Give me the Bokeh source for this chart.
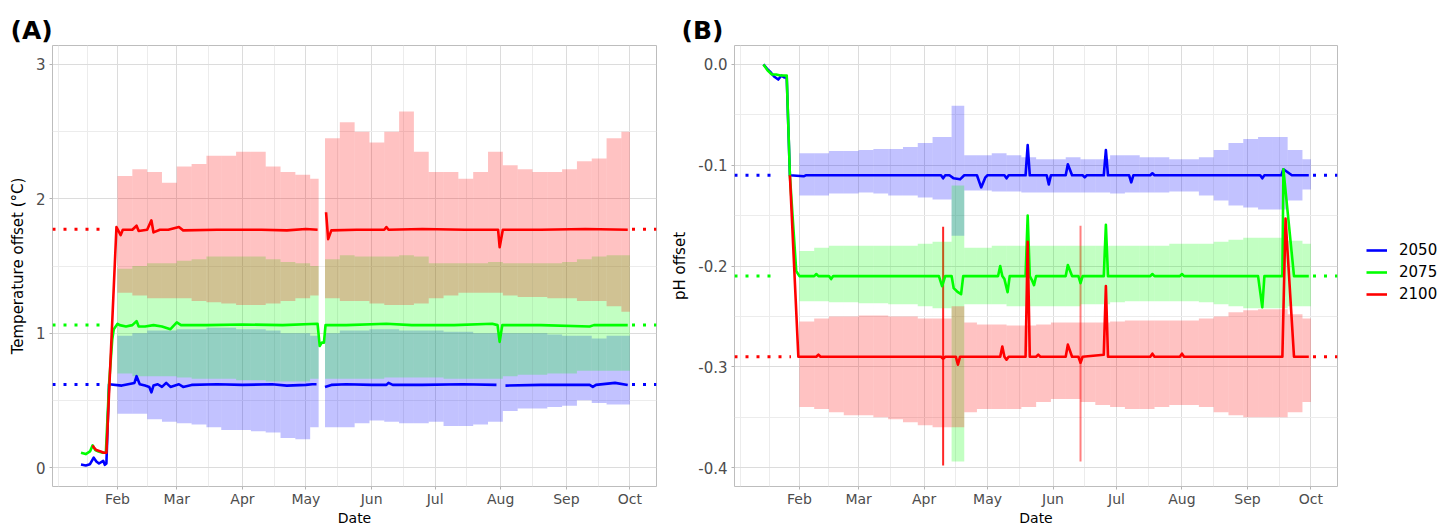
import pandas as pd
from bokeh.plotting import figure
from bokeh.models import (Range1d, FixedTicker, DatetimeTickFormatter, NumeralTickFormatter,
                          Legend, LegendItem)
from bokeh.layouts import row
from bokeh.embed import file_html
from bokeh.resources import INLINE

NAN = float("nan")
YEAR = "2021-"

# ---------------- data ----------------
scenarios = ["2050", "2075", "2100"]

month_ticks = ["02-01", "03-01", "04-01", "05-01", "06-01", "07-01", "08-01", "09-01", "10-01"]
minor_x_ticks = ["01-04", "01-18", "02-15", "03-16", "04-16", "05-16", "06-16", "07-16", "08-16", "09-16"]

temp_yticks = [0, 1, 2, 3]
temp_yminor = [0.5, 1.5, 2.5]
ph_yticks = [-0.4, -0.3, -0.2, -0.1, 0.0]
ph_yminor = [-0.35, -0.25, -0.15, -0.05]

# weekly ensemble ranges (ribbons)
band_start_A = ["02-01", "02-08", "02-15", "02-22", "03-01", "03-08", "03-15", "03-22", "03-29", "04-05",
                "04-12", "04-19", "04-26", "05-03", "05-10", "05-17", "05-24", "05-31", "06-07", "06-14",
                "06-21", "06-28", "07-05", "07-12", "07-19", "07-26", "08-02", "08-09", "08-16", "08-23",
                "08-30", "09-06", "09-13", "09-20", "09-27"]
band_end_A = ["02-08", "02-15", "02-22", "03-01", "03-08", "03-15", "03-22", "03-29", "04-05", "04-12",
              "04-19", "04-26", "05-03", "05-07", "05-17", "05-24", "05-31", "06-07", "06-14", "06-21",
              "06-28", "07-05", "07-12", "07-19", "07-26", "08-02", "08-09", "08-16", "08-23", "08-30",
              "09-06", "09-13", "09-20", "09-27", "10-01"]
band_start_B = ["02-01", "02-08", "02-15", "02-22", "03-01", "03-08", "03-15", "03-22", "03-29", "04-05",
                "04-14", "04-20", "04-26", "05-03", "05-10", "05-17", "05-24", "05-31", "06-07", "06-14",
                "06-21", "06-28", "07-05", "07-12", "07-19", "07-26", "08-02", "08-09", "08-16", "08-23",
                "08-30", "09-06", "09-13", "09-20", "09-27"]
band_end_B = ["02-08", "02-15", "02-22", "03-01", "03-08", "03-15", "03-22", "03-29", "04-05", "04-14",
              "04-20", "04-26", "05-03", "05-10", "05-17", "05-24", "05-31", "06-07", "06-14", "06-21",
              "06-28", "07-05", "07-12", "07-19", "07-26", "08-02", "08-09", "08-16", "08-23", "08-30",
              "09-06", "09-13", "09-20", "09-27", "10-01"]

temp_band_2050_lo = [0.40, 0.40, 0.36, 0.34, 0.33, 0.32, 0.30, 0.28, 0.28, 0.27,
                     0.26, 0.22, 0.21, 0.30, 0.30, 0.30, 0.33, 0.35, 0.34, 0.33,
                     0.33, 0.34, 0.31, 0.31, 0.32, 0.34, 0.42, 0.44, 0.44, 0.45,
                     0.46, 0.50, 0.48, 0.47, 0.47]
temp_band_2050_hi = [0.98, 1.00, 1.02, 1.02, 1.03, 1.03, 1.04, 1.04, 1.03, 1.03,
                     1.02, 1.00, 1.00, 0.98, 1.00, 1.02, 1.02, 1.03, 1.03, 1.02,
                     1.02, 1.02, 1.01, 1.01, 1.00, 1.00, 1.00, 1.00, 1.00, 0.99,
                     0.98, 0.98, 0.96, 0.98, 0.98]
temp_band_2075_lo = [0.70, 0.68, 0.68, 0.68, 0.67, 0.66, 0.66, 0.66, 0.65, 0.65,
                     0.64, 0.64, 0.64, 0.66, 0.66, 0.66, 0.66, 0.66, 0.67, 0.67,
                     0.67, 0.67, 0.66, 0.66, 0.66, 0.66, 0.68, 0.69, 0.69, 0.70,
                     0.70, 0.72, 0.72, 0.72, 0.72]
temp_band_2075_hi = [1.48, 1.50, 1.52, 1.52, 1.54, 1.55, 1.57, 1.57, 1.57, 1.57,
                     1.55, 1.53, 1.52, 1.50, 1.55, 1.58, 1.57, 1.57, 1.57, 1.58,
                     1.57, 1.52, 1.52, 1.52, 1.52, 1.53, 1.52, 1.52, 1.52, 1.52,
                     1.53, 1.55, 1.57, 1.58, 1.58]
temp_band_2100_lo = [1.30, 1.28, 1.26, 1.26, 1.26, 1.24, 1.23, 1.22, 1.21, 1.21,
                     1.22, 1.24, 1.26, 1.28, 1.26, 1.24, 1.24, 1.22, 1.21, 1.21,
                     1.22, 1.26, 1.28, 1.30, 1.30, 1.30, 1.28, 1.27, 1.27, 1.26,
                     1.26, 1.24, 1.24, 1.20, 1.16]
temp_band_2100_hi = [2.17, 2.22, 2.20, 2.12, 2.24, 2.26, 2.32, 2.32, 2.35, 2.35,
                     2.24, 2.20, 2.18, 2.15, 2.45, 2.57, 2.50, 2.42, 2.50, 2.65,
                     2.35, 2.20, 2.20, 2.15, 2.20, 2.35, 2.25, 2.22, 2.20, 2.20,
                     2.22, 2.28, 2.30, 2.45, 2.50]

ph_band_2050_lo = [-0.130, -0.130, -0.128, -0.128, -0.127, -0.128, -0.130, -0.130, -0.132, -0.134,
                   -0.170, -0.125, -0.125, -0.126, -0.126, -0.127, -0.127, -0.127, -0.127, -0.127,
                   -0.127, -0.128, -0.127, -0.127, -0.127, -0.126, -0.126, -0.130, -0.135, -0.140,
                   -0.142, -0.144, -0.144, -0.135, -0.124]
ph_band_2050_hi = [-0.088, -0.088, -0.086, -0.086, -0.085, -0.084, -0.084, -0.082, -0.078, -0.072,
                   -0.041, -0.090, -0.090, -0.088, -0.090, -0.092, -0.094, -0.094, -0.092, -0.094,
                   -0.094, -0.090, -0.090, -0.092, -0.092, -0.094, -0.094, -0.092, -0.085, -0.078,
                   -0.074, -0.072, -0.072, -0.085, -0.094]
ph_band_2075_lo = [-0.235, -0.235, -0.236, -0.236, -0.237, -0.237, -0.238, -0.238, -0.240, -0.242,
                   -0.394, -0.238, -0.238, -0.238, -0.240, -0.240, -0.240, -0.240, -0.240, -0.238,
                   -0.238, -0.236, -0.235, -0.235, -0.235, -0.235, -0.235, -0.236, -0.238, -0.240,
                   -0.242, -0.242, -0.242, -0.240, -0.240]
ph_band_2075_hi = [-0.185, -0.182, -0.180, -0.180, -0.180, -0.180, -0.180, -0.180, -0.178, -0.176,
                   -0.120, -0.182, -0.182, -0.180, -0.180, -0.180, -0.180, -0.180, -0.180, -0.180,
                   -0.180, -0.180, -0.180, -0.180, -0.180, -0.178, -0.178, -0.178, -0.176, -0.174,
                   -0.172, -0.172, -0.172, -0.175, -0.178]
ph_band_2100_lo = [-0.340, -0.342, -0.345, -0.348, -0.348, -0.350, -0.352, -0.355, -0.358, -0.360,
                   -0.360, -0.345, -0.342, -0.342, -0.342, -0.340, -0.335, -0.332, -0.332, -0.335,
                   -0.338, -0.340, -0.342, -0.342, -0.340, -0.338, -0.338, -0.340, -0.345, -0.348,
                   -0.350, -0.350, -0.350, -0.345, -0.335]
ph_band_2100_hi = [-0.255, -0.252, -0.250, -0.250, -0.249, -0.249, -0.250, -0.250, -0.252, -0.252,
                   -0.240, -0.256, -0.258, -0.258, -0.259, -0.259, -0.258, -0.256, -0.256, -0.256,
                   -0.256, -0.255, -0.254, -0.254, -0.254, -0.254, -0.254, -0.252, -0.250, -0.246,
                   -0.244, -0.243, -0.243, -0.248, -0.252]

# single-day extreme ranges (panel B, 2100)
ph_spike_dates = ["04-10", "06-14"]
ph_spike_lo = [-0.398, -0.394]
ph_spike_hi = [-0.161, -0.160]
ph_spike_alpha = [0.85, 0.5]

# median offsets (lines)
temp_2050_t = ["01-14 18:00", "01-17", "01-19", "01-20 18:00", "01-22", "01-23 06:00", "01-25 06:00", "01-26",
               "01-26 18:00", "01-28",
               "02-03", "02-06", "02-09", "02-10", "02-11 12:00", "02-14", "02-16", "02-17", "02-18", "02-20",
               "02-22", "02-24", "02-26", "03-02", "03-04", "03-08", "03-20", "04-01", "04-15", "04-22",
               "05-01", "05-04", "05-06",
               "05-08",
               "05-10", "05-13", "05-20", "06-01", "06-08", "06-09", "06-11", "06-25", "07-14", "07-30",
               "08-01",
               "08-03 06:00", "08-20", "09-12", "09-13 12:00", "09-15", "09-24", "09-30"]
temp_2050_v = [0.022, 0.015, 0.025, 0.074, 0.045, 0.03, 0.05, 0.02, 0.03, 0.62,
               0.61, 0.62, 0.63, 0.68, 0.62, 0.61, 0.60, 0.56, 0.61, 0.62,
               0.60, 0.63, 0.60, 0.62, 0.60, 0.615, 0.62, 0.615, 0.62, 0.61,
               0.615, 0.62, 0.62,
               NAN,
               0.60, 0.615, 0.62, 0.615, 0.615, 0.63, 0.615, 0.615, 0.62, 0.615,
               NAN,
               0.61, 0.615, 0.615, 0.60, 0.615, 0.63, 0.615]

temp_2075_t = ["01-14 18:00", "01-17", "01-19", "01-20 06:00", "01-21 12:00", "01-23", "01-25", "01-26 12:00",
               "01-28", "01-29 12:00", "01-30 06:00", "02-01", "02-02", "02-05", "02-08", "02-10", "02-11",
               "02-14", "02-18", "02-22", "02-26", "03-01", "03-03", "03-15", "04-01", "04-20", "05-06 12:00",
               "05-07 12:00", "05-08 12:00", "05-09 12:00", "05-10 06:00", "05-20", "06-08", "06-20", "07-10",
               "07-28", "07-30 12:00", "07-31 12:00", "08-01 18:00", "08-20", "09-12", "09-14", "09-30"]
temp_2075_v = [0.11, 0.10, 0.12, 0.165, 0.13, 0.12, 0.11, 0.11,
               0.62, 0.95, 1.03, 1.07, 1.06, 1.05, 1.06, 1.09, 1.05,
               1.05, 1.06, 1.05, 1.03, 1.08, 1.06, 1.06, 1.065, 1.06, 1.07,
               0.905, 0.93, 0.93, 1.06, 1.06, 1.07, 1.06, 1.06,
               1.07, 1.06, 0.935, 1.06, 1.06, 1.05, 1.06, 1.06]

temp_2100_t = ["01-20 06:00", "01-20 18:00", "01-22", "01-24", "01-25 12:00", "01-26 18:00", "01-31 12:00",
               "02-01 12:00", "02-02 12:00", "02-03 12:00", "02-08", "02-10", "02-11", "02-15", "02-17", "02-18",
               "02-21", "02-25", "03-02", "03-04", "03-20", "04-10", "04-22", "05-01", "05-06 12:00",
               "05-08",
               "05-10 12:00", "05-11 12:00", "05-13", "05-25", "06-07", "06-08", "06-09", "06-25", "07-15",
               "07-30 18:00", "07-31 12:00", "08-02", "08-20", "09-10", "09-30"]
temp_2100_v = [0.165, 0.15, 0.13, 0.12, 0.11, 0.11, 1.79,
               1.76, 1.73, 1.77, 1.77, 1.80, 1.76, 1.77, 1.84, 1.75,
               1.77, 1.77, 1.79, 1.765, 1.77, 1.77, 1.765, 1.775, 1.77,
               NAN,
               1.90, 1.70, 1.765, 1.77, 1.77, 1.79, 1.77, 1.775, 1.77,
               1.77, 1.64, 1.77, 1.77, 1.775, 1.77]

ph_2050_t = ["01-15", "01-17", "01-18 12:00", "01-20", "01-22", "01-23 12:00", "01-25", "01-26", "01-27 12:00",
             "02-03", "02-04", "04-09", "04-10", "04-11", "04-13", "04-15", "04-18", "04-20", "04-26", "04-28",
             "04-30", "05-01", "05-09", "05-10", "05-11", "05-19", "05-20", "05-21", "05-29", "05-30", "05-31",
             "06-07", "06-08", "06-10", "06-15", "06-16", "06-17", "06-25", "06-26", "06-27", "07-07", "07-08",
             "07-09", "07-17", "07-18", "07-19", "09-07", "09-08", "09-09", "09-17", "09-18", "09-20", "09-22",
             "09-30"]
ph_2050_v = [0.0, -0.005, -0.008, -0.012, -0.015, -0.011, -0.013, -0.013, -0.11,
             -0.111, -0.11, -0.11, -0.113, -0.11, -0.11, -0.113, -0.114, -0.11, -0.11, -0.122,
             -0.112, -0.11, -0.11, -0.113, -0.11, -0.11, -0.08, -0.11, -0.11, -0.119, -0.11,
             -0.11, -0.099, -0.11, -0.11, -0.112, -0.11, -0.11, -0.085, -0.11, -0.11, -0.117,
             -0.11, -0.11, -0.108, -0.11, -0.11, -0.113, -0.11, -0.11, -0.104, -0.107, -0.11,
             -0.11]

ph_2075_t = ["01-15", "01-17", "01-19", "01-21", "01-23", "01-26", "01-27 12:00", "01-30 12:00", "02-01",
             "02-08", "02-09", "02-10", "02-15", "02-16", "02-17", "04-08", "04-09 12:00", "04-11", "04-14",
             "04-15", "04-17", "04-18 12:00", "04-19 12:00", "05-06", "05-07", "05-08", "05-09", "05-10 12:00",
             "05-11 12:00", "05-19", "05-20", "05-21", "05-22", "05-23", "05-24", "06-07", "06-08", "06-10",
             "06-13", "06-14", "06-15", "06-25", "06-26", "06-27", "07-17", "07-18", "07-19", "07-31", "08-01",
             "08-02", "09-06", "09-08", "09-09", "09-17 12:00", "09-18", "09-23", "09-30"]
ph_2075_v = [0.0, -0.006, -0.01, -0.01, -0.011, -0.011, -0.11, -0.205, -0.21,
             -0.21, -0.208, -0.21, -0.21, -0.213, -0.21, -0.21, -0.22, -0.21, -0.21,
             -0.222, -0.226, -0.228, -0.21, -0.21, -0.20, -0.21, -0.213, -0.226,
             -0.21, -0.21, -0.15, -0.21, -0.214, -0.219, -0.21, -0.21, -0.199, -0.21,
             -0.21, -0.217, -0.21, -0.21, -0.159, -0.21, -0.21, -0.208, -0.21, -0.21, -0.208,
             -0.21, -0.21, -0.241, -0.21, -0.21, -0.104, -0.21, -0.21]

ph_2100_t = ["01-27 12:00", "01-31 12:00", "02-09", "02-10", "02-11", "04-09", "04-10", "04-11", "04-16",
             "04-17", "04-18", "05-07", "05-08", "05-09", "05-10", "05-11", "05-19", "05-20", "05-21", "05-24",
             "05-25", "05-26", "06-07", "06-08", "06-10", "06-13", "06-14", "06-15", "06-25", "06-26", "06-27",
             "07-17", "07-18", "07-19", "07-31", "08-01", "08-02", "09-17 12:00", "09-19", "09-23", "09-30"]
ph_2100_v = [-0.11, -0.29, -0.29, -0.288, -0.29, -0.29, -0.292, -0.29, -0.29,
             -0.298, -0.29, -0.29, -0.28, -0.29, -0.293, -0.29, -0.29, -0.176, -0.29, -0.29,
             -0.288, -0.29, -0.29, -0.278, -0.29, -0.29, -0.296, -0.29, -0.288, -0.22, -0.29,
             -0.29, -0.287, -0.29, -0.29, -0.287, -0.29, -0.29, -0.153, -0.29, -0.29]

# long-term reference offsets (dotted)
temp_ref = [0.618, 1.06, 1.774]
ph_ref = [-0.11, -0.21, -0.29]
temp_ref_until = ["01-27", "01-27", "01-27"]
ph_ref_until = ["01-22", "01-22", "01-28"]
ref_from = "10-02"

# ---------------- helpers ----------------
COLORS = ["#0000FF", "#00FF00", "#FF0000"]
FONT = "DejaVu Sans"
HEIGHT = 528
BAND_ALPHA = 0.24
X_START = pd.Timestamp("2021-01-01 07:00")
X_END = pd.Timestamp("2021-10-13 14:00")


def ts(lst):
    return [pd.Timestamp(YEAR + s) for s in lst]


def ms(s):
    return pd.Timestamp(YEAR + s).value / 1e6


def make_fig(width, left, right, yr, yticks, yminor, ylabel, title, title_offset, numfmt=None):
    p = figure(width=width, height=HEIGHT, x_axis_type="datetime", output_backend="svg",
               toolbar_location=None, x_range=Range1d(X_START, X_END), y_range=Range1d(*yr),
               min_border_left=left, min_border_right=right, min_border_top=45, min_border_bottom=30,
               title=title)
    p.title.align = "left"
    p.title.offset = title_offset
    p.title.standoff = 2
    p.title.text_font = FONT
    p.title.text_font_size = "25px"
    p.title.text_font_style = "bold"
    p.title.text_color = "black"

    xt = FixedTicker(ticks=[ms(m) for m in month_ticks], minor_ticks=[ms(m) for m in minor_x_ticks])
    p.xaxis[0].ticker = xt
    p.xgrid[0].ticker = xt
    fmt = "%b"
    p.xaxis[0].formatter = DatetimeTickFormatter(microseconds=fmt, milliseconds=fmt, seconds=fmt, minsec=fmt,
                                                 minutes=fmt, hourmin=fmt, hours=fmt, days=fmt,
                                                 months=fmt, years=fmt)
    yt = FixedTicker(ticks=yticks, minor_ticks=yminor)
    p.yaxis[0].ticker = yt
    p.ygrid[0].ticker = yt
    if numfmt:
        p.yaxis[0].formatter = NumeralTickFormatter(format=numfmt)

    for ax in p.axis:
        ax.axis_line_color = None
        ax.major_tick_line_color = "#b3b3b3"
        ax.major_tick_out = 3
        ax.major_tick_in = 0
        ax.minor_tick_out = 0
        ax.minor_tick_in = 0
        ax.major_label_text_font = FONT
        ax.major_label_text_color = "#4d4d4d"
        ax.axis_label_text_font = FONT
        ax.axis_label_text_font_style = "normal"
        ax.axis_label_text_color = "black"
    p.xaxis[0].axis_label = "Date"
    p.xaxis[0].major_label_text_font_size = "14px"
    p.xaxis[0].major_label_standoff = 1
    p.xaxis[0].axis_label_text_font_size = "14px"
    p.xaxis[0].axis_label_standoff = 0
    p.yaxis[0].axis_label = ylabel
    p.yaxis[0].major_label_text_font_size = "15px"
    p.yaxis[0].major_label_standoff = 4
    p.yaxis[0].axis_label_text_font_size = "15px"
    p.yaxis[0].axis_label_standoff = 6

    for g in (p.xgrid[0], p.ygrid[0]):
        g.grid_line_color = "#dcdcdc"
        g.grid_line_width = 1
        g.minor_grid_line_color = "#ececec"
        g.minor_grid_line_width = 1
    p.outline_line_color = "#bdbdbd"
    p.outline_line_width = 1
    return p


def draw(p, band_start, band_end, bands, lines, refs, ref_until):
    for (lo, hi), c in zip(bands, COLORS):
        p.quad(left=ts(band_start), right=ts(band_end), bottom=lo, top=hi,
               fill_color=c, fill_alpha=BAND_ALPHA, line_color=None)
    for lvl, until, c in zip(refs, ref_until, COLORS):
        p.line([X_START, pd.Timestamp(YEAR + until)], [lvl, lvl], color=c, line_width=3, line_dash="3 8")
        p.line([pd.Timestamp(YEAR + ref_from), X_END], [lvl, lvl], color=c, line_width=3, line_dash="3 8")
    rends = []
    for (t, v), c in zip(lines, COLORS):
        rends.append(p.line(ts(t), v, color=c, line_width=2.6, line_join="round"))
    return rends


# ---------------- panel A ----------------
pA = make_fig(668, 52, 12, (-0.141, 3.141), temp_yticks, temp_yminor,
              "Temperature offset (°C)", "(A)", -42)
draw(pA, band_start_A, band_end_A,
     [(temp_band_2050_lo, temp_band_2050_hi), (temp_band_2075_lo, temp_band_2075_hi),
      (temp_band_2100_lo, temp_band_2100_hi)],
     [(temp_2050_t, temp_2050_v), (temp_2075_t, temp_2075_v), (temp_2100_t, temp_2100_v)],
     temp_ref, temp_ref_until)

# ---------------- panel B ----------------
pB = make_fig(672, 65, 3, (-0.4188, 0.0188), ph_yticks, ph_yminor,
              "pH offset", "(B)", -53, numfmt="0.0")
pB.segment(x0=ts(ph_spike_dates), y0=ph_spike_lo, x1=ts(ph_spike_dates), y1=ph_spike_hi,
           line_color="#FF0000", line_alpha=ph_spike_alpha, line_width=2)
draw(pB, band_start_B, band_end_B,
     [(ph_band_2050_lo, ph_band_2050_hi), (ph_band_2075_lo, ph_band_2075_hi),
      (ph_band_2100_lo, ph_band_2100_hi)],
     [(ph_2050_t, ph_2050_v), (ph_2075_t, ph_2075_v), (ph_2100_t, ph_2100_v)],
     ph_ref, ph_ref_until)

# ---------------- legend strip ----------------
pL = figure(width=103, height=HEIGHT, output_backend="svg", toolbar_location=None,
            x_range=Range1d(0, 1), y_range=Range1d(0, 1), x_axis_location=None, y_axis_location=None,
            min_border_left=0, min_border_right=0, min_border_top=0, min_border_bottom=0)
pL.grid.visible = False
pL.outline_line_color = None
# legend keys only: undefined (NaN) values, nothing is drawn in the strip itself
legend_renderers = [pL.line([0, 1], [NAN, NAN], color=c, line_width=2.6) for c in COLORS]
legend = Legend(items=[LegendItem(label=s, renderers=[r]) for s, r in zip(scenarios, legend_renderers)],
                location=(26, 182), orientation="vertical", glyph_width=21, glyph_height=20,
                label_height=20, label_standoff=12, spacing=2, padding=0, margin=0,
                border_line_color=None, background_fill_alpha=0,
                label_text_font=FONT, label_text_font_size="15px", label_text_color="black")
pL.add_layout(legend)

layout = row(pA, pB, pL)
open("out.html", "w").write(file_html(layout, INLINE))
